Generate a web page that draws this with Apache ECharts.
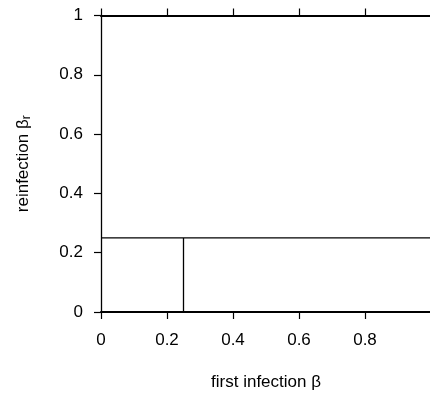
<!DOCTYPE html>
<html>
<head>
<meta charset="utf-8">
<script src="https://cdn.jsdelivr.net/npm/echarts@6/dist/echarts.min.js"></script>
<style>
  html, body { margin: 0; padding: 0; background: #fff; }
  #chart { width: 430px; height: 394px; }
</style>
</head>
<body>
<div id="chart"></div>
<script>
// Threshold lines in the (beta, beta_r) plane
const horizontalLine = [[0, 0.25], [1, 0.25]];
const verticalLine = [[0.25, 0], [0.25, 0.25]];
const xTicks = [0, 0.2, 0.4, 0.6, 0.8];
const yTicks = [0, 0.2, 0.4, 0.6, 0.8, 1];

const font = 'Liberation Sans, Arial, sans-serif';
const chart = echarts.init(document.getElementById('chart'));

const fmt = (list, v) => {
  const r = +v.toFixed(2);
  return list.includes(r) ? String(r) : '';
};

chart.setOption({
  backgroundColor: '#fff',
  animation: false,
  grid: { left: 101, right: -1, top: 15.5, bottom: 82, outerBoundsMode: 'none', containLabel: false },
  xAxis: [{
    type: 'value', min: 0, max: 1, interval: 0.2, position: 'bottom',
    name: 'first infection β', nameLocation: 'middle', nameGap: 62,
    nameTextStyle: { fontFamily: font, fontSize: 17, color: '#000' },
    axisLine: { show: true, lineStyle: { color: '#000', width: 2 } },
    axisTick: { show: true, inside: false, length: 7, lineStyle: { color: '#000', width: 1.2 } },
    axisLabel: {
      margin: 20, fontFamily: font, fontSize: 17, color: '#000',
      formatter: v => fmt(xTicks, v)
    },
    splitLine: { show: false }
  }, {
    type: 'value', min: 0, max: 1, interval: 0.2, position: 'top',
    axisLine: { show: true, lineStyle: { color: '#000', width: 2 } },
    axisTick: { show: true, inside: false, length: 7, lineStyle: { color: '#000', width: 1.2 } },
    axisLabel: { show: false },
    splitLine: { show: false }
  }],
  yAxis: {
    type: 'value', min: 0, max: 1, interval: 0.2,
    name: '{a|reinfection β}{s|r}', nameLocation: 'middle', nameGap: 68,
    nameRotate: 90,
    nameTextStyle: {
      rich: {
        a: { fontFamily: font, fontSize: 17, color: '#000', lineHeight: 20, verticalAlign: 'middle' },
        s: { fontFamily: font, fontSize: 12, color: '#000', lineHeight: 9, verticalAlign: 'bottom' }
      }
    },
    axisLine: { show: true, lineStyle: { color: '#000', width: 1.3 } },
    axisTick: { show: true, inside: false, length: 7, lineStyle: { color: '#000', width: 1.2 } },
    axisLabel: {
      margin: 18, fontFamily: font, fontSize: 17, color: '#000',
      formatter: v => fmt(yTicks, v)
    },
    splitLine: { show: false }
  },
  series: [{
    type: 'line', data: horizontalLine, symbol: 'none',
    lineStyle: { color: '#000', width: 1.1 }
  }, {
    type: 'line', data: verticalLine, symbol: 'none',
    lineStyle: { color: '#000', width: 1.3 }
  }]
});
</script>
</body>
</html>
